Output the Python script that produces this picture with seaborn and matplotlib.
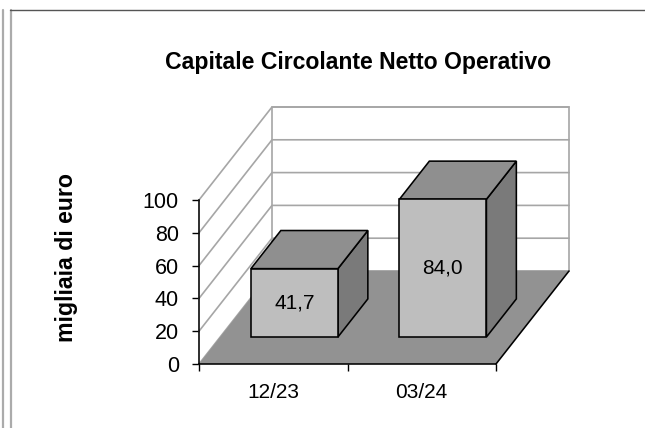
import matplotlib
matplotlib.use("Agg")
import matplotlib.pyplot as plt
import pandas as pd
import seaborn as sns
from matplotlib.lines import Line2D
from matplotlib.patches import Polygon

periods = ["12/23", "03/24"]
values = [41.7, 84.0]
value_labels = ["41,7", "84,0"]
y_ticks = [0, 20, 40, 60, 80, 100]

W, H = 645, 428

# depth vector of the 3D box, in data units (categories / thousands of euro)
DEPTH_X = 73 / 148.5
DEPTH_Y = 93 / 1.64
BAR_FRONT = 0.29
BAR_DEPTH = 0.41

FLOOR = "#929292"
FRONT = "#BEBEBE"
SIDE = "#7A7A7A"
TOP = "#8F8F8F"
GRID = "#A6A6A6"
EDGE_LW = 1.15

sns.set_theme(style="white")
plt.rcParams["font.family"] = ["Liberation Sans", "DejaVu Sans"]

fig = plt.figure(figsize=(W / 100, H / 100), dpi=100)
ax = fig.add_axes([199 / W, (H - 364) / H, 297 / W, 164 / H])
df = pd.DataFrame({"period": periods, "value": values})

# bars: seaborn draws the front faces, then they are moved back into the box
sns.barplot(data=df, x="period", y="value", width=87 / 148.5, color=FRONT,
            saturation=1, edgecolor="black", linewidth=EDGE_LW, ax=ax, zorder=5)

x0, x1 = -0.5, 1.5
ax.set_xlim(x0, x1)
ax.set_ylim(0, 100)


def shift(x, y, d):
    return (x + DEPTH_X * d, y + DEPTH_Y * d)


# left wall and back wall
ax.add_patch(Polygon([shift(x0, 0, 1), shift(x1, 0, 1), shift(x1, 100, 1), shift(x0, 100, 1)],
                     closed=True, facecolor="white", edgecolor=GRID, linewidth=1.2,
                     clip_on=False, zorder=1))
for t in y_ticks:
    xs, ys = zip(shift(x0, t, 0), shift(x0, t, 1), shift(x1, t, 1))
    ax.plot(xs, ys, color=GRID, linewidth=1.2, clip_on=False, zorder=1.5)

# floor
ax.add_patch(Polygon([shift(x0, 0, 0), shift(x1, 0, 0), shift(x1, 0, 1), shift(x0, 0, 1)],
                     closed=True, facecolor=FLOOR, edgecolor="none", clip_on=False, zorder=2))
xs, ys = zip(shift(x1, 0, 0), shift(x1, 0, 1))
ax.plot(xs, ys, color="black", linewidth=EDGE_LW, clip_on=False, zorder=2.5)

for patch, val, lab in zip(ax.patches, values, value_labels):
    left, w = patch.get_x(), patch.get_width()
    fx, fy = shift(left, 0, BAR_FRONT)
    patch.set_x(fx)
    patch.set_y(fy)
    patch.set_clip_on(False)
    right = fx + w
    top = fy + val
    dx, dy = DEPTH_X * BAR_DEPTH, DEPTH_Y * BAR_DEPTH
    ax.add_patch(Polygon([(right, fy), (right + dx, fy + dy), (right + dx, top + dy), (right, top)],
                         closed=True, facecolor=SIDE, edgecolor="black", linewidth=EDGE_LW,
                         clip_on=False, zorder=4))
    ax.add_patch(Polygon([(fx, top), (right, top), (right + dx, top + dy), (fx + dx, top + dy)],
                         closed=True, facecolor=TOP, edgecolor="black", linewidth=EDGE_LW,
                         clip_on=False, zorder=4))
    ax.text(fx + w / 2, fy + val / 2, lab, ha="center", va="center", fontsize=15,
            color="black", zorder=6)

# axes
sns.despine(ax=ax)
for side in ["left", "bottom"]:
    ax.spines[side].set_color("black")
    ax.spines[side].set_linewidth(EDGE_LW)
    ax.spines[side].set_zorder(7)
ax.set_yticks(y_ticks)
ax.tick_params(axis="y", length=5, width=1, color="black", labelcolor="black", labelsize=15.5,
               pad=9.5, left=True)
ax.set_xticks([-0.5, 0.5, 1.5], minor=False)
ax.set_xticklabels([])
ax.tick_params(axis="x", length=5, width=1, color="black", bottom=True)
ax.set_xlabel("")
ax.set_ylabel("")
for i, p in enumerate(periods):
    ax.annotate(p, (i, 0), xytext=(0, -29), xycoords="data", textcoords="offset pixels",
                ha="center", va="center", fontsize=15, color="black")

fig.text(358.5 / W, 1 - 62.5 / H, "Capitale Circolante Netto Operativo", ha="center", va="center",
         fontsize=16.6, fontweight="bold", color="black")
fig.text(67 / W, 1 - 257 / H, "migliaia di euro", rotation=90, ha="center", va="center",
         fontsize=16.7, fontweight="bold", color="black")

# page frame around the chart
for x, y_end in [(3, 9.5), (11, 9.5)]:
    fig.add_artist(Line2D([x / W, x / W], [0, 1 - y_end / H], color="#ABABAB", linewidth=1.6))
fig.add_artist(Line2D([10 / W, 1], [1 - 9.5 / H, 1 - 9.5 / H], color="#555555", linewidth=1.0))

fig.savefig("out.png", dpi=100)
